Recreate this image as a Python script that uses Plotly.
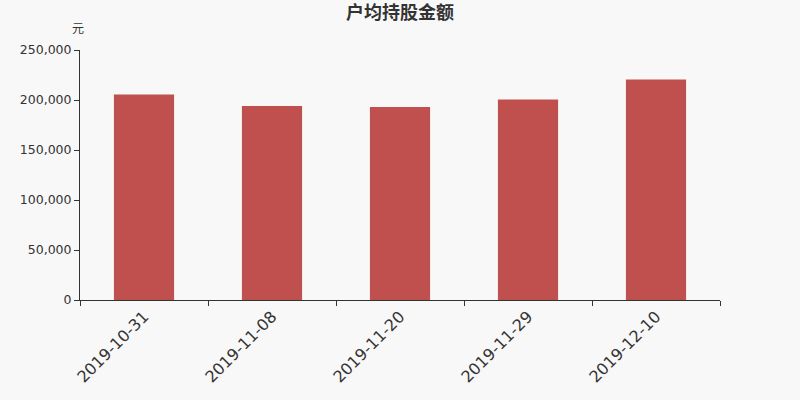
import plotly.graph_objects as go

dates = ['2019-10-31', '2019-11-08', '2019-11-20', '2019-11-29', '2019-12-10']
avg_amount = [205500, 194000, 193000, 200500, 220500]

font_family = 'DejaVu Sans, Noto Sans CJK SC, sans-serif'

trace = go.Bar(
    x=dates,
    y=avg_amount,
    marker=dict(color='#c0504d', line=dict(width=0)),
    width=0.47,
    hoverinfo='none',
)

layout = go.Layout(
    width=800,
    height=400,
    paper_bgcolor='#f8f8f8',
    plot_bgcolor='#f8f8f8',
    margin=dict(l=80, r=80, t=50, b=100),
    font=dict(family=font_family, color='#333333'),
    title=dict(text='<b>户均持股金额</b>', x=0.5, xanchor='center', xref='paper',
               y=0.9675, yanchor='middle', font=dict(size=18, color='#333333')),
    xaxis=dict(
        type='category',
        tickangle=-45,
        tickson='boundaries',
        ticks='outside',
        ticklen=5,
        tickcolor='#333333',
        showline=True,
        linecolor='#333333',
        linewidth=1,
        showgrid=False,
        tickfont=dict(size=16, color='#333333'),
    ),
    yaxis=dict(
        range=[0, 250000],
        dtick=50000,
        tickformat=',d',
        ticks='outside',
        ticklen=5,
        tickcolor='#333333',
        showline=True,
        linecolor='#333333',
        linewidth=1,
        showgrid=False,
        zeroline=False,
        tickfont=dict(size=12.5, color='#333333'),
    ),
    annotations=[dict(
        text='元', xref='paper', yref='paper', x=0, y=1,
        xanchor='center', yanchor='bottom', xshift=-2, yshift=12,
        showarrow=False, font=dict(size=12, color='#333333'),
    )],
    bargap=0.53,
)

fig = go.Figure(data=[trace], layout=layout)
# drop the default page margin so the figure sits at the window corner
fig.write_html("out.html", config={'displayModeBar': False},
               post_script="document.body.style.margin='0';")
